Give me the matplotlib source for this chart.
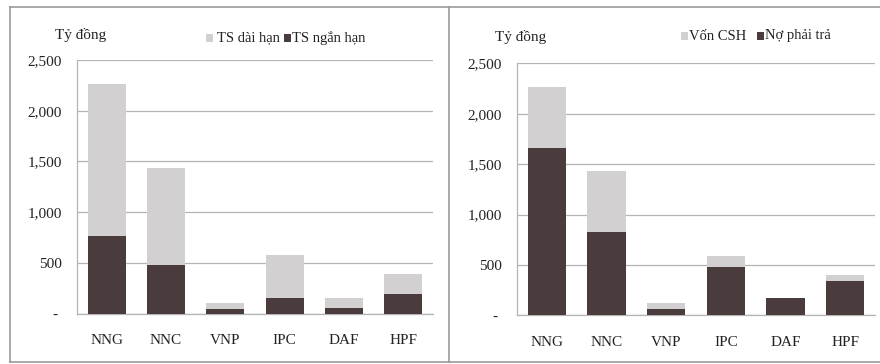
import matplotlib
matplotlib.use("Agg")
import matplotlib.pyplot as plt
from matplotlib.lines import Line2D
from matplotlib.patches import Rectangle

# Company tickers
categories = ["NNG", "NNC", "VNP", "IPC", "DAF", "HPF"]

# Asset structure (billion VND)
ts_ngan_han = [760, 475, 45, 150, 58, 195]
ts_dai_han = [1503, 958, 57, 426, 90, 193]

# Capital structure (billion VND)
no_phai_tra = [1663, 826, 65, 476, 172, 340]
von_csh = [605, 609, 60, 112, 0, 57]

y_ticks = [0, 500, 1000, 1500, 2000, 2500]
y_tick_labels = ["- ", "500", "1,000", "1,500", "2,000", "2,500"]

DARK = "#4a3c3d"
LIGHT = "#d2d0d1"
GRID = "#b4b4b4"
TEXT = "#222222"
FONT = ["Liberation Serif", "DejaVu Serif"]

plt.rcParams["font.family"] = FONT

fig = plt.figure(figsize=(8.8, 3.64), dpi=100)
fig.patch.set_facecolor("white")


def px_box(x0, x1, ytop, ybot):
    W, H = 880.0, 364.0
    return [x0 / W, (H - ybot) / H, (x1 - x0) / W, (ybot - ytop) / H]


def panel(rect, bottom_vals, top_vals, leg_top, leg_bottom, unit_xy, leg_pos):
    ax = fig.add_axes(rect)
    x = range(len(categories))
    ax.bar(x, bottom_vals, width=0.64, color=DARK, zorder=3)
    ax.bar(x, top_vals, width=0.64, bottom=bottom_vals, color=LIGHT, zorder=3)
    ax.set_xlim(-0.5, len(categories) - 0.5)
    ax.set_ylim(0, 2500)
    ax.set_yticks(y_ticks)
    ax.set_yticklabels(y_tick_labels)
    ax.set_xticks(list(x))
    ax.set_xticklabels(categories)
    ax.tick_params(axis="both", length=0, labelsize=11, colors=TEXT)
    ax.tick_params(axis="y", pad=11)
    ax.tick_params(axis="x", pad=15)
    ax.yaxis.grid(True, color=GRID, linewidth=0.9, zorder=0)
    ax.set_axisbelow(True)
    for s in ["top", "right"]:
        ax.spines[s].set_visible(False)
    ax.spines["left"].set_color(GRID)
    ax.spines["bottom"].set_color(GRID)
    ax.spines["left"].set_linewidth(0.9)
    ax.spines["bottom"].set_linewidth(0.9)

    fig.text(unit_xy[0] / 880, 1 - unit_xy[1] / 364, "Tỷ đồng",
             fontsize=11, color=TEXT, va="center", ha="left")

    (m1, t1, m2, t2, ly) = leg_pos
    yf = 1 - ly / 364
    for mx, tx, col, lab in [(m1, t1, LIGHT, leg_top), (m2, t2, DARK, leg_bottom)]:
        fig.patches.append(Rectangle((mx / 880, yf - 3.5 / 364), 7 / 880, 7 / 364,
                                     transform=fig.transFigure, facecolor=col,
                                     edgecolor="none"))
        fig.text(tx / 880, yf, lab, fontsize=10.5, color=TEXT,
                 va="center", ha="left")
    return ax


panel(px_box(77, 433, 60, 313.5), ts_ngan_han, ts_dai_han,
      "TS dài hạn", "TS ngắn hạn", (55, 35),
      (206, 217, 284, 292, 38))
panel(px_box(517, 875, 63.3, 315.3), no_phai_tra, von_csh,
      "Vốn CSH", "Nợ phải trả", (495, 37),
      (681, 689, 757, 765, 36))

# Outer frame and panel divider
frame_col = "#9a9a9a"
W, H = 880.0, 364.0
for xs, ys in [((10, 880), (7, 7)), ((10, 10), (7, 362)),
               ((10, 880), (362, 362)), ((449, 449), (7, 362))]:
    fig.lines.append(Line2D([xs[0] / W, xs[1] / W], [1 - ys[0] / H, 1 - ys[1] / H],
                            transform=fig.transFigure, color=frame_col,
                            linewidth=1.2))

fig.savefig("out.png", dpi=100, facecolor="white")
